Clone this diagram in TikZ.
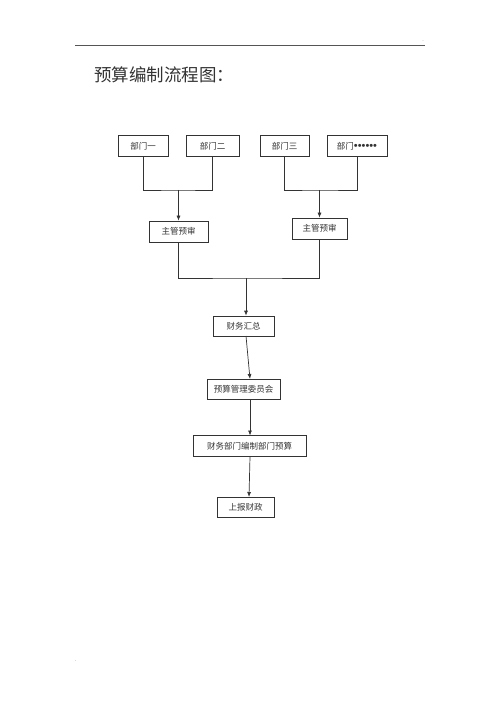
\documentclass[tikz,border=0pt]{standalone}
\usepackage{fontspec}
\usepackage{tikz}
\usetikzlibrary{arrows.meta,positioning,calc}
\newfontfamily\cjk{Noto Sans CJK SC}
\newfontfamily\symfont{Liberation Serif}
\definecolor{Ink}{HTML}{333333}
\definecolor{RuleGray}{HTML}{555555}
\tikzset{
  box/.style={draw=Ink,fill=white,line width=.7pt,minimum height=21pt,inner sep=1pt,font=\cjk\fontsize{8.5}{10}\selectfont,text=Ink},
  flow/.style={-{Latex[length=5pt,width=4pt]},draw=Ink,line width=.7pt},
  plainline/.style={draw=Ink,line width=.7pt}
}
\begin{document}
\begin{tikzpicture}[x=1pt,y=-1pt]
      \useasboundingbox (0,0) rectangle (500,708);
      \draw[draw=RuleGray,line width=.8pt] (75,45) -- (425,45);
      \node[font=\tiny,text=Ink] (dot1) at (423,41) {.};
      \node[font=\tiny,text=Ink] (dot2) at (76,661) {.};
      \node[anchor=west,font=\cjk\fontsize{17.5}{20}\selectfont,text=Ink,inner sep=0pt] (title) at (94,75) {预算编制流程图：};

      % departments
      \node[box,minimum width=50pt] (d1) at (143,146) {部门一};
      \node[box,minimum width=53pt] (d2) at (212.5,146) {部门二};
      \node[box,minimum width=49pt] (d3) at (284.5,146) {部门三};
      \node[box,minimum width=60pt] (d4) at (357,146) {部门{\symfont\fontsize{11}{10}\selectfont\bfseries ••••••}};
      \coordinate (j1) at (178.5,190);
      \coordinate (j2) at (319.5,190);
      \draw[plainline] (d1.south) |- (j1) -| (d2.south);
      \draw[plainline] (d3.south) |- (j2) -| (d4.south);

      % review
      \node[box,minimum width=59pt] (s1) at (178.5,231.5) {主管预审};
      \node[box,minimum width=55pt] (s2) at (319.5,228.5) {主管预审};
      \draw[flow] (j1) -- (s1.north);
      \draw[flow] (j2) -- (s2.north);
      \coordinate (j3) at (246,278);
      \draw[plainline] (s1.south) |- (j3) -| (s2.south);

      % chain
      \node[box,minimum width=61pt,minimum height=20pt] (f1) at (243.5,326) {财务汇总};
      \node[box,minimum width=73pt,minimum height=20pt] (f2) at (243.5,389) {预算管理委员会};
      \node[box,minimum width=113pt,minimum height=21pt] (f3) at (249.5,446) {财务部门编制部门预算};
      \node[box,minimum width=57pt,minimum height=20pt] (f4) at (245.5,507) {上报财政};
      \draw[flow] (j3) -- (j3 |- f1.north);
      \draw[flow] (246,336) -- (250,379);
      \draw[flow] (250,399) -- (250,435.5);
      \draw[flow] (250,456.5) -- (249,497);
    \end{tikzpicture}
\end{document}
